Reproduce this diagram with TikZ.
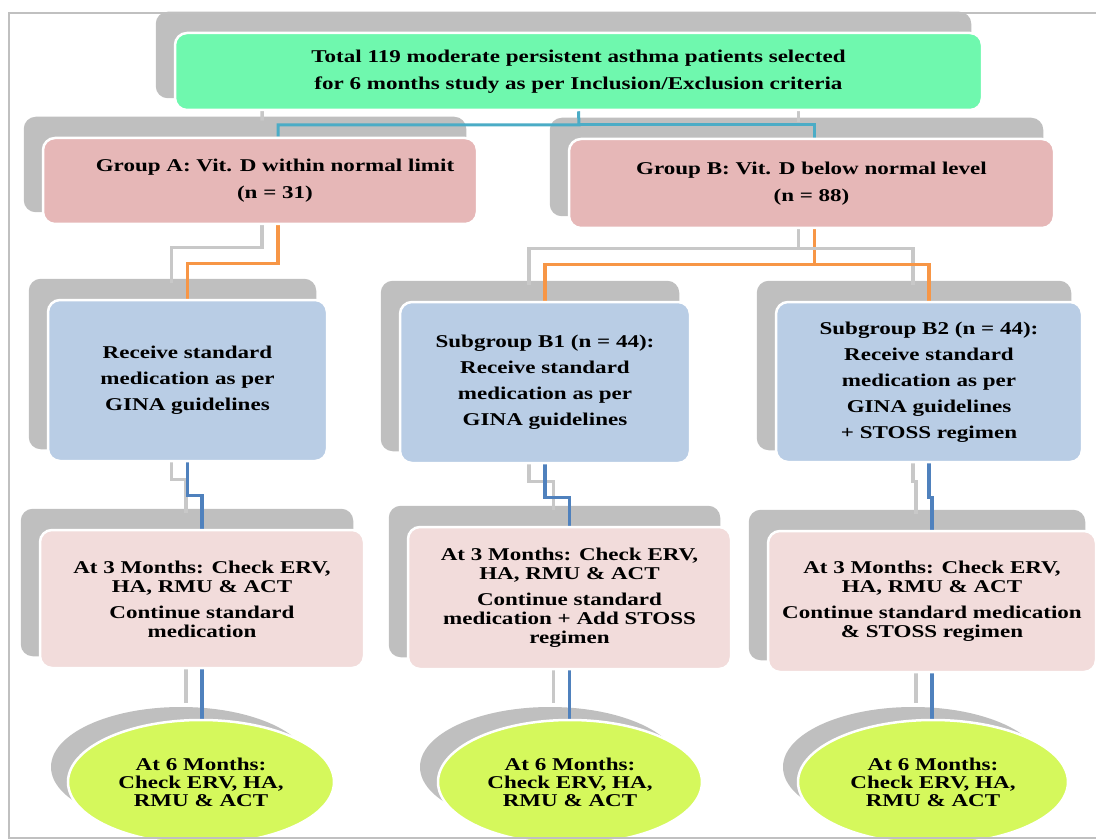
\documentclass[tikz,border=0pt]{standalone}
\usepackage{fontspec}
\setmainfont{Liberation Serif}[FakeStretch=1.28]
\usetikzlibrary{shapes.geometric}
\definecolor{framegray}{HTML}{C0C0C0}
\definecolor{shadegray}{HTML}{BFBFBF}
\definecolor{linkgray}{HTML}{C8C8C8}
\definecolor{topgreen}{HTML}{6FF8AE}
\definecolor{grppink}{HTML}{E6B7B7}
\definecolor{medblue}{HTML}{B9CDE5}
\definecolor{chkpink}{HTML}{F2DCDB}
\definecolor{endlime}{HTML}{D5F85C}
\definecolor{tealline}{HTML}{4BACC6}
\definecolor{orangeline}{HTML}{F79646}
\definecolor{blueline}{HTML}{4F81BD}
\pgfdeclarelayer{back}
\pgfdeclarelayer{mid}
\pgfsetlayers{back,mid,main}
\tikzset{
  box/.style={draw=white, line width=2.5pt, rounded corners=12pt, align=center,
    inner sep=0pt},
  endbox/.style={ellipse, draw=white, line width=2.5pt, fill=endlime, align=center,
    inner sep=0pt, minimum height=124pt,
    font=\fontsize{18}{18}\selectfont\bfseries},
  link/.style={line width=3.5pt,
    preaction={draw=linkgray, line width=3.5pt, transform canvas={shift={(-16pt,16pt)}}}}
}

\begin{document}
\begin{tikzpicture}[x=1pt,y=-1pt]
  \useasboundingbox (0,0) rectangle (1096,840);

  \node[box, fill=topgreen, minimum width=807pt, minimum height=77pt,
        font=\fontsize{18}{27}\selectfont\bfseries] (top) at (578.5,71.5)
    {Total 119 moderate persistent asthma patients selected\\
     for 6 months study as per Inclusion/Exclusion criteria};

  \node[box, fill=grppink, minimum width=434pt, minimum height=86pt,
        font=\fontsize{18}{27}\selectfont\bfseries] (grpA) at (260,181)
    {\hspace*{30pt}Group A: Vit. D within normal limit\\\hspace*{30pt}(n = 31)};
  \node[box, fill=grppink, minimum width=485pt, minimum height=89pt,
        font=\fontsize{18}{27}\selectfont\bfseries] (grpB) at (811.5,183.5)
    {Group B: Vit. D below normal level\\(n = 88)};

  \node[box, fill=medblue, minimum width=279pt, minimum height=161pt,
        font=\fontsize{18}{26}\selectfont\bfseries] (medA) at (187.5,380.5)
    {Receive standard\\medication as per\\GINA guidelines};
  \node[box, fill=medblue, minimum width=290pt, minimum height=161pt,
        font=\fontsize{18}{26}\selectfont\bfseries] (medB1) at (545,382.5)
    {Subgroup B1 (n = 44):\\Receive standard\\medication as per\\GINA guidelines};
  \node[box, fill=medblue, minimum width=306pt, minimum height=160pt,
        font=\fontsize{18}{26}\selectfont\bfseries] (medB2) at (929,382)
    {Subgroup B2 (n = 44):\\Receive standard\\medication as per\\GINA guidelines\\+ STOSS regimen};

  \node[box, fill=chkpink, minimum width=324pt, minimum height=138pt,
        font=\fontsize{18}{19}\selectfont\bfseries] (chkA) at (202,599)
    {At 3 Months: Check ERV,\\HA, RMU \& ACT\\[7pt]Continue standard\\medication};
  \node[box, fill=chkpink, minimum width=323pt, minimum height=142pt,
        font=\fontsize{18}{19}\selectfont\bfseries] (chkB1) at (569.5,598)
    {At 3 Months: Check ERV,\\HA, RMU \& ACT\\[7pt]Continue standard\\medication + Add STOSS\\regimen};
  \node[box, fill=chkpink, minimum width=328pt, minimum height=141pt,
        font=\fontsize{18}{19}\selectfont\bfseries] (chkB2) at (932,601.5)
    {At 3 Months: Check ERV,\\HA, RMU \& ACT\\[7pt]Continue standard medication\\\& STOSS regimen};

  \node[endbox, minimum width=266pt] (endA) at (201,782)
    {At 6 Months:\\Check ERV, HA,\\RMU \& ACT};
  \node[endbox, minimum width=264pt] (endB1) at (570,782)
    {At 6 Months:\\Check ERV, HA,\\RMU \& ACT};
  \node[endbox, minimum width=270pt] (endB2) at (933,782)
    {At 6 Months:\\Check ERV, HA,\\RMU \& ACT};

  % grey copies behind the boxes
  \begin{pgfonlayer}{back}
    \foreach \n in {top,grpA,grpB,medA,medB1,medB2,chkA,chkB1,chkB2}
      \fill[shadegray, rounded corners=12pt] ([shift={(-18,-20)}]\n.north west)
        rectangle ([shift={(-12,-13)}]\n.south east);
    \foreach \n in {endA,endB1,endB2}
      \fill[shadegray] ([shift={(-20,-15)}]\n.center) ellipse [x radius=130pt, y radius=60pt];
  \end{pgfonlayer}

  \begin{pgfonlayer}{mid}
    \coordinate (jtop) at (579,125);
    \draw[link, tealline, line width=3pt] (top.south) -- (jtop) -| ([xshift=18pt]grpA.north);
    \draw[link, tealline, line width=3pt] (jtop) -| ([xshift=3pt]grpB.north);

    \draw[link, orangeline] ([xshift=18pt]grpA.south) -- ++(0,38) -| (medA.north);
    \draw[link, orangeline] ([xshift=3pt]grpB.south) -- ++(0,35) coordinate (jgrpB) -| (medB1.north);
    \draw[link, orangeline] (jgrpB) -| (medB2.north);

    \draw[link, blueline] (medA.south) -- ++(0,33) -| (chkA.north);
    \draw[link, blueline] (medB1.south) -- ++(0,33) -| (chkB1.north);
    \draw[link, blueline] (medB2.south) -- ++(0,34) -| (chkB2.north);

    \draw[link, blueline] (chkA.south) -- (chkA.south |- endA.north);
    \draw[link, blueline] (chkB1.south) -- (chkB1.south |- endB1.north);
    \draw[link, blueline] (chkB2.south) -- (chkB2.south |- endB2.north);
  \end{pgfonlayer}

  \draw[framegray, line width=2.5pt] (1096,13) -- (9,13) -- (9,838) -- (1096,838);
\end{tikzpicture}
\end{document}
